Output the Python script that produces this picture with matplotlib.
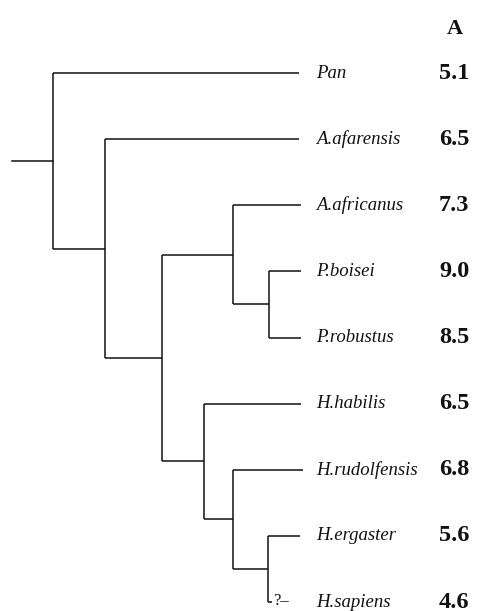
import matplotlib
matplotlib.use('Agg')
import matplotlib.pyplot as plt

names=['Pan','A.afarensis','A.africanus','P.boisei','P.robustus',
       'H.habilis','H.rudolfensis','H.ergaster','H.sapiens']
values=['5.1','6.5','7.3','9.0','8.5','6.5','6.8','5.6','4.6']
column_title='A'

# internal nodes: two children (leaf index or 'n'+node index) and branch depth
node_a=[3,2,7,6,5,'n1',1,0]
node_b=[4,'n0',8,'n2','n3','n4','n5','n6']
node_x=[269,233,268,233,204,162,105,53]
root_x=12
tip_x=[299,299,301,301,301,301,303,300,272]
tip_note=['','','','','','','','','?\u2013']

plt.rcParams['font.family']=['Liberation Serif','DejaVu Serif']

fig=plt.figure(figsize=(4.82,6.11),dpi=100)
ax=fig.add_axes([0,0,1,1])
ax.set_xlim(0,482)
ax.set_ylim(8.136,-1.104)
ax.axis('off')

lw=1.1
col='#111111'

pos={}
for i in range(len(names)):
    pos[i]=i

def gety(c):
    return pos[c]

for k in range(len(node_x)):
    a=node_a[k]
    b=node_b[k]
    ya=gety(a)
    yb=gety(b)
    x=node_x[k]
    ax.plot([x,x],[ya,yb],color=col,lw=lw,solid_capstyle='butt')
    for c,yc in ((a,ya),(b,yb)):
        if isinstance(c,str):
            xe=node_x[int(c[1:])]
        else:
            xe=tip_x[c]
        ax.plot([x,xe],[yc,yc],color=col,lw=lw,solid_capstyle='butt')
    pos['n'+str(k)]=(ya+yb)/2

root=pos['n'+str(len(node_x)-1)]
ax.plot([root_x,node_x[-1]],[root,root],color=col,lw=lw)

for i in range(len(names)):
    if tip_note[i]:
        ax.text(tip_x[i]+1,i-0.02,tip_note[i],fontsize=12,va='center',ha='left',color=col)
    ax.text(316,i,names[i],fontsize=13.5,style='italic',va='center',ha='left',color=col)
    ax.text(439,i,values[i],fontsize=17.5,weight='bold',va='center',ha='left',color=col)

ax.text(455,-0.67,column_title,fontsize=16,weight='bold',va='center',ha='center',color=col)

fig.savefig('out.png',dpi=100)
